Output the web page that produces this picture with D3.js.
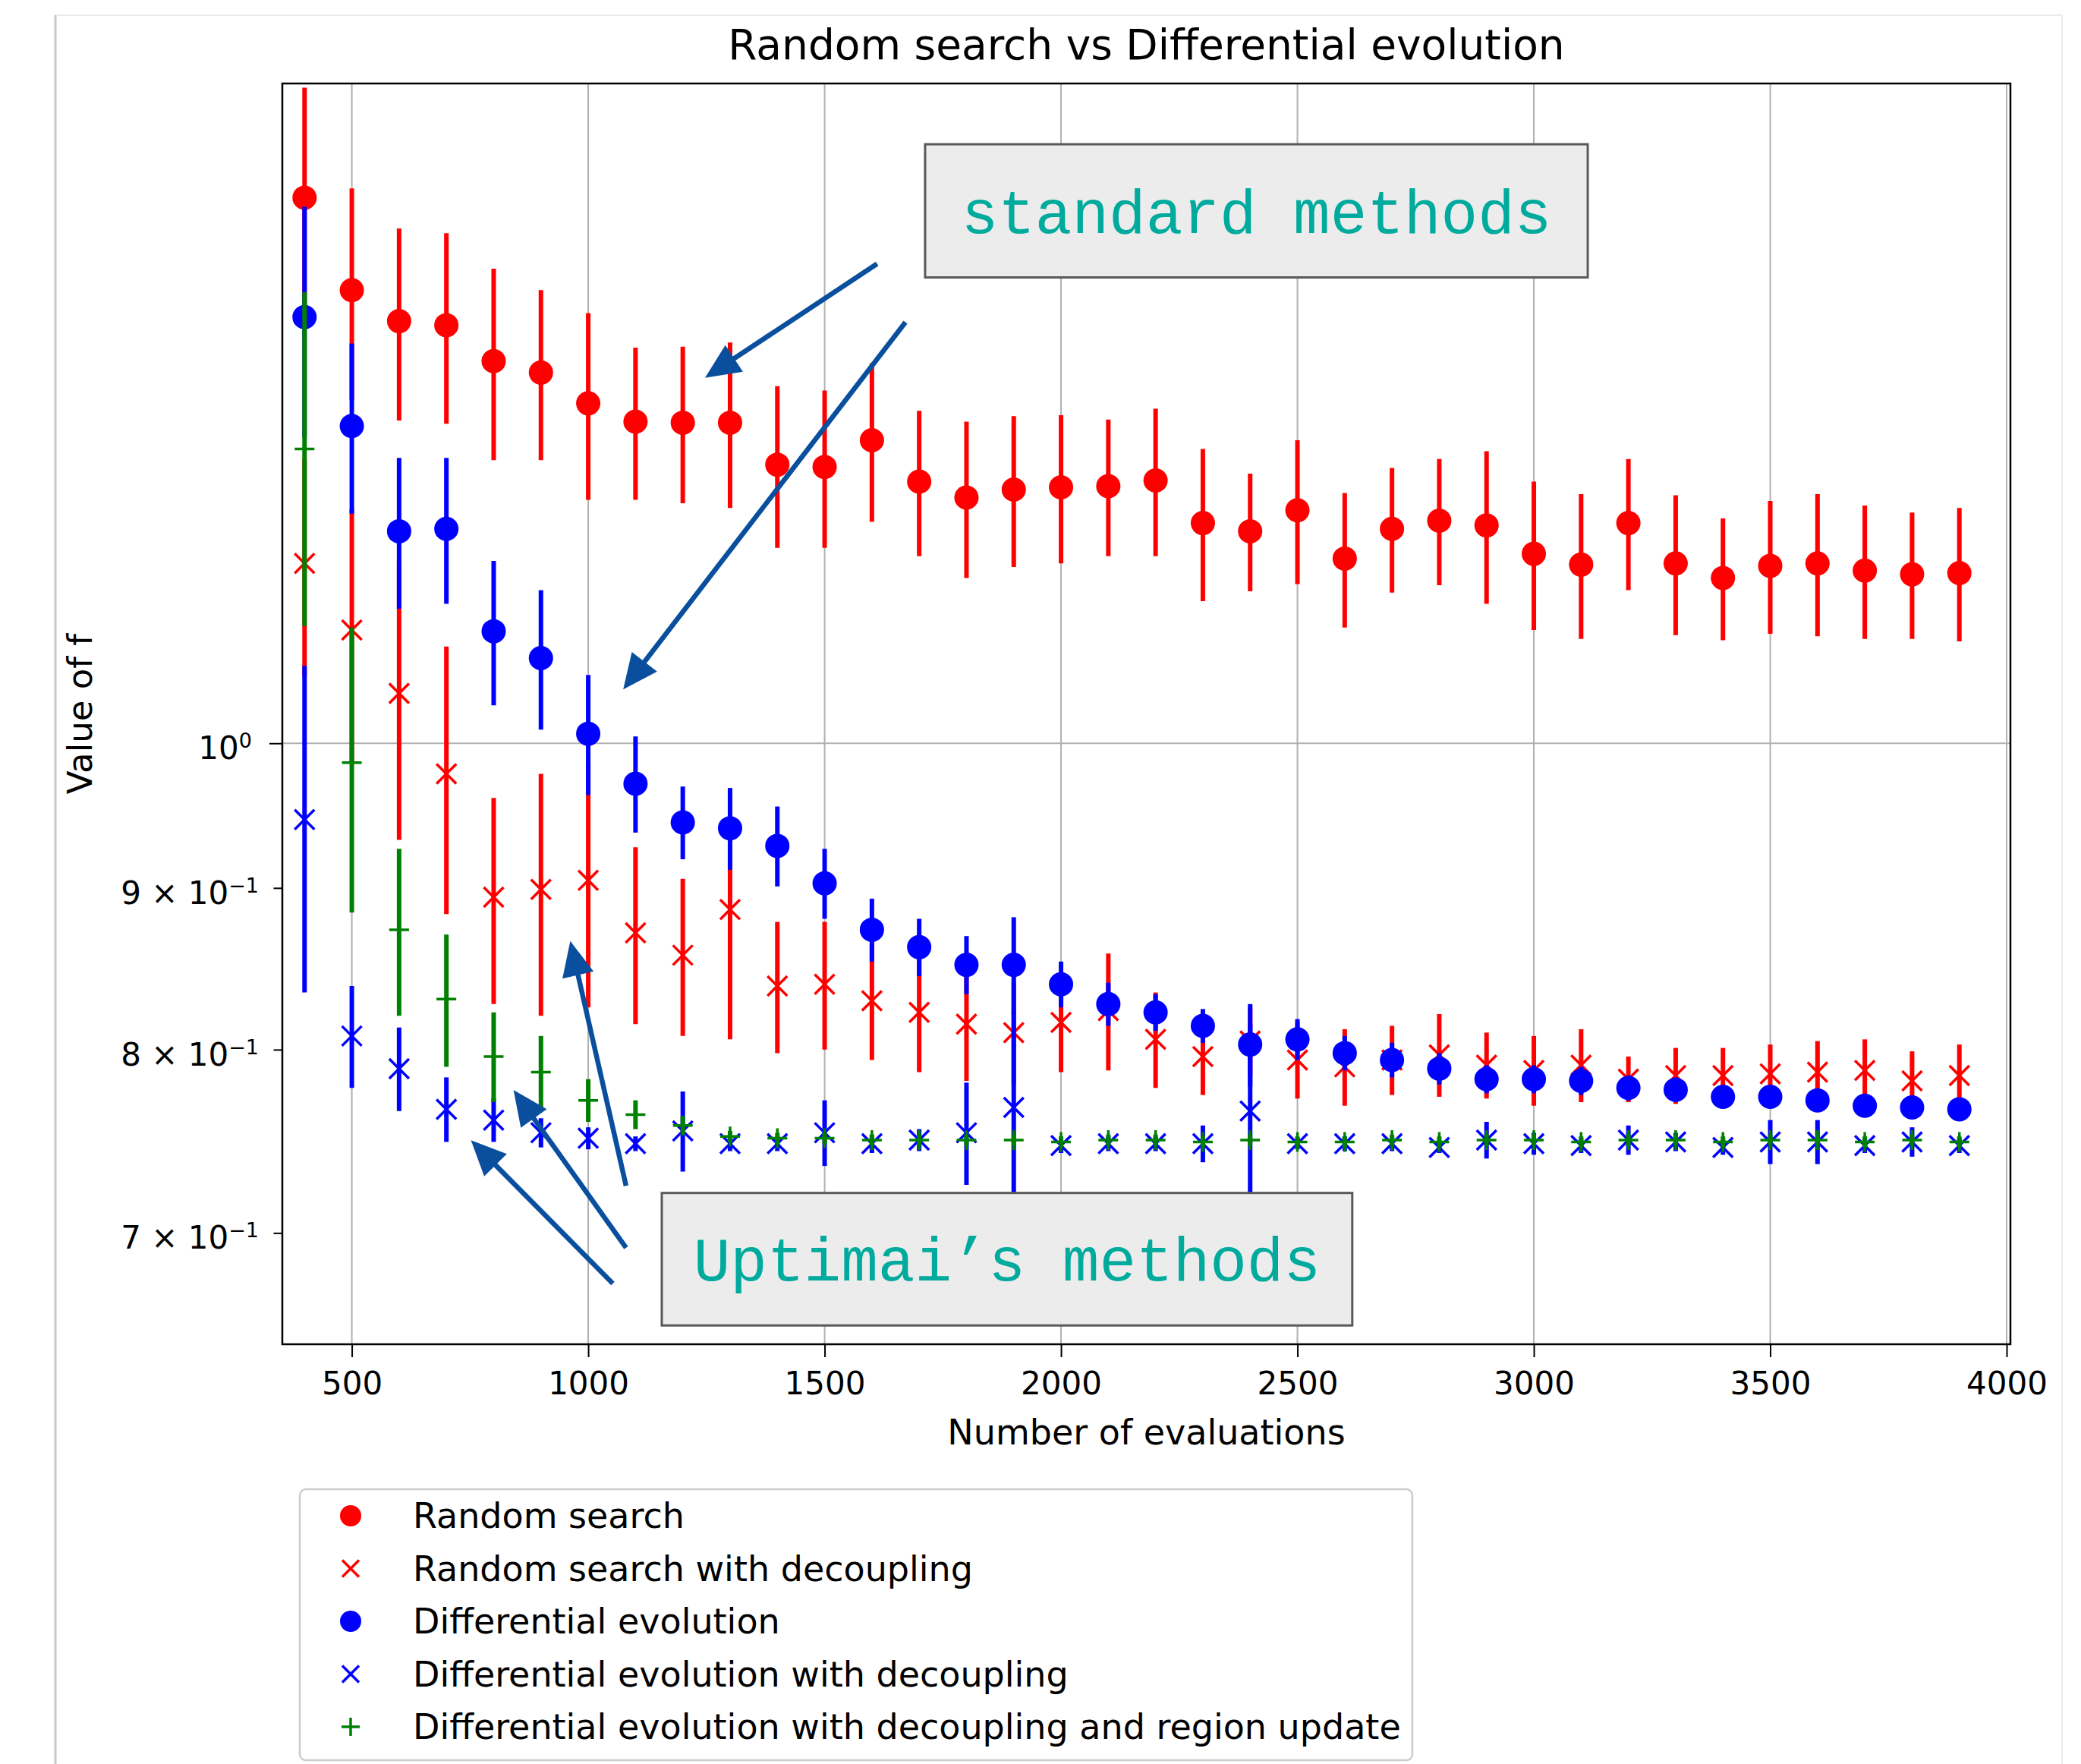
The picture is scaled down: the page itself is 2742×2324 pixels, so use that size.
<!DOCTYPE html>
<meta charset="utf-8">
<script src="https://d3js.org/d3.v7.min.js"></script>
<style>
  body { margin: 0; background: #ffffff; }
  svg text { font-family: "DejaVu Sans", sans-serif; fill: #000; }
</style>
<body>
<svg id="chart" width="2742" height="2324"></svg>
<script>

// x categories (number of evaluations)
var evals = [400, 500, 600, 700, 800, 900, 1000, 1100, 1200, 1300, 1400, 1500,
             1600, 1700, 1800, 1900, 2000, 2100, 2200, 2300, 2400, 2500, 2600, 2700,
             2800, 2900, 3000, 3100, 3200, 3300, 3400, 3500, 3600, 3700, 3800, 3900];

// Random search
var rsMean = [1.488, 1.391, 1.360, 1.356, 1.321, 1.310, 1.281, 1.264, 1.263, 1.263, 1.225, 1.223,
              1.247, 1.210, 1.196, 1.203, 1.205, 1.206, 1.211, 1.174, 1.167, 1.185, 1.144, 1.169,
              1.176, 1.172, 1.148, 1.139, 1.174, 1.140, 1.128, 1.138, 1.140, 1.134, 1.131, 1.132];
var rsErr  = [0.124, 0.107, 0.095, 0.094, 0.092, 0.081, 0.087, 0.070, 0.072, 0.076, 0.072, 0.070,
              0.072, 0.064, 0.068, 0.066, 0.065, 0.060, 0.065, 0.065, 0.050, 0.062, 0.056, 0.053,
              0.054, 0.065, 0.062, 0.060, 0.056, 0.058, 0.050, 0.055, 0.059, 0.055, 0.052, 0.055];

// Random search with decoupling
var rsdMean = [1.140, 1.086, 1.037, 0.978, 0.894, 0.899, 0.905, 0.871, 0.857, 0.886, 0.838, 0.839,
               0.829, 0.822, 0.815, 0.810, 0.816, 0.823, 0.806, 0.796, 0.805, 0.794, 0.790, 0.794,
               0.797, 0.791, 0.788, 0.791, 0.783, 0.785, 0.785, 0.786, 0.787, 0.788, 0.782, 0.785];
var rsdErr  = [0.090, 0.100, 0.105, 0.095, 0.067, 0.079, 0.080, 0.056, 0.049, 0.080, 0.040, 0.039,
               0.035, 0.035, 0.033, 0.030, 0.029, 0.035, 0.028, 0.022, 0.020, 0.022, 0.022, 0.020,
               0.024, 0.019, 0.020, 0.021, 0.013, 0.016, 0.016, 0.017, 0.018, 0.018, 0.017, 0.018];

// Differential evolution
var deMean = [1.364, 1.260, 1.167, 1.169, 1.085, 1.064, 1.007, 0.971, 0.944, 0.940, 0.928, 0.903,
              0.873, 0.862, 0.851, 0.851, 0.839, 0.827, 0.822, 0.814, 0.803, 0.806, 0.798, 0.794,
              0.789, 0.783, 0.783, 0.782, 0.778, 0.777, 0.773, 0.773, 0.771, 0.768, 0.767, 0.766];
var deErr  = [0.114, 0.078, 0.064, 0.062, 0.057, 0.054, 0.044, 0.034, 0.025, 0.028, 0.027, 0.023,
              0.020, 0.018, 0.018, 0.030, 0.014, 0.013, 0.011, 0.010, 0.024, 0.012, 0.010, 0.010,
              0.009, 0.008, 0.008, 0.008, 0.007, 0.007, 0.006, 0.006, 0.006, 0.006, 0.006, 0.006];

// Differential evolution with decoupling
var dedMean = [0.946, 0.808, 0.789, 0.766, 0.760, 0.753, 0.750, 0.747, 0.754, 0.747, 0.747, 0.753,
               0.747, 0.749, 0.753, 0.767, 0.746, 0.747, 0.747, 0.747, 0.765, 0.747, 0.747, 0.747,
               0.745, 0.749, 0.747, 0.746, 0.749, 0.748, 0.745, 0.748, 0.748, 0.746, 0.748, 0.746];
var dedErr  = [0.112, 0.030, 0.024, 0.018, 0.012, 0.008, 0.006, 0.004, 0.022, 0.004, 0.004, 0.018,
               0.005, 0.006, 0.028, 0.055, 0.004, 0.004, 0.004, 0.010, 0.050, 0.003, 0.004, 0.004,
               0.003, 0.010, 0.006, 0.004, 0.008, 0.005, 0.004, 0.012, 0.012, 0.004, 0.008, 0.004];

// Differential evolution with decoupling and region update
var derMean = [1.239, 0.986, 0.873, 0.830, 0.796, 0.787, 0.771, 0.763, 0.757, 0.751, 0.750, 0.750,
               0.749, 0.749, 0.749, 0.749, 0.748, 0.749, 0.749, 0.748, 0.749, 0.748, 0.748, 0.749,
               0.748, 0.749, 0.749, 0.748, 0.749, 0.749, 0.748, 0.749, 0.749, 0.748, 0.749, 0.748];
var derErr  = [0.150, 0.102, 0.053, 0.040, 0.026, 0.021, 0.012, 0.008, 0.005, 0.003, 0.003, 0.003,
               0.003, 0.003, 0.003, 0.003, 0.003, 0.003, 0.003, 0.003, 0.003, 0.003, 0.003, 0.003,
               0.003, 0.003, 0.003, 0.003, 0.003, 0.003, 0.003, 0.003, 0.003, 0.003, 0.003, 0.003];

var seriesNames = ["Random search", "Random search with decoupling", "Differential evolution",
                   "Differential evolution with decoupling",
                   "Differential evolution with decoupling and region update"];
var seriesColors = ["#ff0000", "#ff0000", "#0000ff", "#0000ff", "#008000"];
var seriesMarkers = ["o", "x", "o", "x", "+"];

// axis ticks
var xTicks = [500, 1000, 1500, 2000, 2500, 3000, 3500, 4000];
var yTickValues = [0.7, 0.8, 0.9, 1.0];
var yTickBase = ["7 \u00d7 10", "8 \u00d7 10", "9 \u00d7 10", "10"];
var yTickExp = ["\u22121", "\u22121", "\u22121", "0"];

// annotations: [tail evals, tail f, tip evals, tip f]
var stdArrows = [[1611, 1.418, 1247, 1.305], [1671, 1.359, 1074, 1.040]];
var uptArrows = [[1080, 0.7245, 962, 0.8659], [1080, 0.6925, 842, 0.7768], [1052, 0.6747, 752, 0.7489]];

var series = seriesNames.map(function(n, i) {
  return {name: n, color: seriesColors[i], marker: seriesMarkers[i],
          mean: [rsMean, rsdMean, deMean, dedMean, derMean][i],
          err: [rsErr, rsdErr, deErr, dedErr, derErr][i]};
});

var plotL = 372, plotR = 2649, plotT = 110, plotB = 1771;

var svg = d3.select("#chart");

// card outline round the figure
svg.append("rect")
  .attr("x", 73).attr("y", 20).attr("width", 2644).attr("height", 2340)
  .attr("fill", "#ffffff").attr("stroke", "#ececec").attr("stroke-width", 2);
svg.append("line")
  .attr("x1", 73).attr("x2", 73).attr("y1", 20).attr("y2", 2324)
  .attr("stroke", "#c9c9c9").attr("stroke-width", 3);

var x = d3.scaleLinear().domain([353, 4008]).range([plotL, plotR]);
var y = d3.scaleLog().domain([0.6455, 1.617]).range([plotB, plotT]);

svg.append("defs").append("clipPath").attr("id", "clip")
  .append("rect").attr("x", plotL).attr("y", plotT)
  .attr("width", plotR - plotL).attr("height", plotB - plotT);

// grid
var grid = svg.append("g").attr("stroke", "#b0b0b0").attr("stroke-width", 2);
grid.selectAll("line.gx").data(xTicks).join("line")
  .attr("x1", d => x(d)).attr("x2", d => x(d))
  .attr("y1", plotT).attr("y2", plotB);
grid.append("line")
  .attr("x1", plotL).attr("x2", plotR)
  .attr("y1", y(1)).attr("y2", y(1));

// markers
function markerPath(type, cx, cy, r) {
  if (type == "x")
    return "M" + (cx - r) + "," + (cy - r) + "L" + (cx + r) + "," + (cy + r) +
           "M" + (cx - r) + "," + (cy + r) + "L" + (cx + r) + "," + (cy - r);
  return "M" + (cx - r) + "," + cy + "L" + (cx + r) + "," + cy +
         "M" + cx + "," + (cy - r) + "L" + cx + "," + (cy + r);
}

function drawMarker(g, type, color, cx, cy, big) {
  if (type == "o") {
    g.append("circle").attr("cx", cx).attr("cy", cy).attr("r", big ? 16 : 14).attr("fill", color);
  } else {
    g.append("path").attr("d", markerPath(type, cx, cy, type == "x" ? (big ? 13 : 11) : (big ? 13 : 12)))
      .attr("stroke", color).attr("stroke-width", 3.5).attr("fill", "none");
  }
}

var plot = svg.append("g").attr("clip-path", "url(#clip)");

series.forEach(function(s) {
  var g = plot.append("g");
  g.selectAll("line").data(evals).join("line")
    .attr("x1", d => x(d)).attr("x2", d => x(d))
    .attr("y1", (d, i) => y(s.mean[i] - s.err[i]))
    .attr("y2", (d, i) => y(s.mean[i] + s.err[i]))
    .attr("stroke", s.color).attr("stroke-width", 6);
  evals.forEach(function(d, i) {
    drawMarker(g, s.marker, s.color, x(d), y(s.mean[i]), true);
  });
});

// axes
var xAxis = svg.append("g")
  .attr("transform", "translate(0," + plotB + ")")
  .call(d3.axisBottom(x).tickValues(xTicks).tickSize(17).tickPadding(19).tickFormat(d3.format("d")));
xAxis.select(".domain").remove();
xAxis.selectAll("line").attr("stroke", "#000").attr("stroke-width", 2);
xAxis.selectAll("text").attr("font-size", 42).attr("font-family", "DejaVu Sans");

var yAxis = svg.append("g")
  .attr("transform", "translate(" + plotL + ",0)")
  .call(d3.axisLeft(y).tickValues(yTickValues).tickSize(12).tickFormat(""));
yAxis.select(".domain").remove();
yAxis.selectAll("line").attr("stroke", "#000").attr("stroke-width", 2)
  .attr("x2", d => d == 1 ? -17 : -11.5);

var yLabels = svg.append("g").attr("font-size", 42);
yTickValues.forEach(function(v, i) {
  var t = yLabels.append("text")
    .attr("x", v == 1 ? 332 : 341)
    .attr("y", y(v) + 21)
    .attr("text-anchor", "end");
  t.append("tspan").text(yTickBase[i]);
  t.append("tspan").attr("font-size", 27).attr("dy", -15).text(yTickExp[i]);
});

// frame
svg.append("rect")
  .attr("x", plotL).attr("y", plotT)
  .attr("width", plotR - plotL).attr("height", plotB - plotT)
  .attr("fill", "none").attr("stroke", "#000").attr("stroke-width", 2.5);

// titles
svg.append("text").attr("x", (plotL + plotR) / 2).attr("y", 78)
  .attr("text-anchor", "middle").attr("font-size", 55)
  .text("Random search vs Differential evolution");
svg.append("text").attr("x", (plotL + plotR) / 2).attr("y", 1903)
  .attr("text-anchor", "middle").attr("font-size", 46)
  .text("Number of evaluations");
svg.append("text")
  .attr("transform", "translate(121," + (plotT + plotB) / 2 + ") rotate(-90)")
  .attr("text-anchor", "middle").attr("font-size", 45)
  .text("Value of f");

// annotation boxes
function noteBox(x0, x1, f0, f1, label, baseOff) {
  var bx0 = x(x0), bx1 = x(x1), by0 = y(f1), by1 = y(f0);
  svg.append("rect")
    .attr("x", bx0).attr("y", by0).attr("width", bx1 - bx0).attr("height", by1 - by0)
    .attr("fill", "#ececec").attr("stroke", "#595959").attr("stroke-width", 3);
  svg.append("text")
    .attr("x", (bx0 + bx1) / 2).attr("y", (by0 + by1) / 2 + baseOff)
    .attr("text-anchor", "middle")
    .style("font-family", "'Liberation Mono', 'DejaVu Sans Mono', monospace")
    .style("fill", "#00aa9d")
    .attr("font-size", 81)
    .text(label);
}

function arrow(a) {
  var x1 = x(a[0]), y1 = y(a[1]), x2 = x(a[2]), y2 = y(a[3]);
  var dx = x2 - x1, dy = y2 - y1, len = Math.sqrt(dx * dx + dy * dy);
  var ux = dx / len, uy = dy / len;
  var hl = 46, hw = 21;
  var bx = x2 - ux * hl, by = y2 - uy * hl;
  svg.append("line")
    .attr("x1", x1).attr("y1", y1).attr("x2", bx + ux * 4).attr("y2", by + uy * 4)
    .attr("stroke", "#0a4f9e").attr("stroke-width", 6.5);
  svg.append("path")
    .attr("d", "M" + x2 + "," + y2 +
               "L" + (bx - uy * hw) + "," + (by + ux * hw) +
               "L" + (bx + uy * hw) + "," + (by - ux * hw) + "Z")
    .attr("fill", "#0a4f9e");
}

noteBox(1712.5, 3114, 1.404, 1.547, "standard methods", 29);
noteBox(1155.6, 2616, 0.6544, 0.7207, "Uptimai\u2019s methods", 28);
stdArrows.forEach(arrow);
uptArrows.forEach(arrow);

// legend
var leg = svg.append("g");
leg.append("rect")
  .attr("x", 395).attr("y", 1962).attr("width", 1466).attr("height", 357)
  .attr("rx", 8).attr("fill", "#ffffff").attr("stroke", "#cccccc").attr("stroke-width", 2.5);
series.forEach(function(s, i) {
  var cy = 1997 + i * 69.5;
  drawMarker(leg, s.marker, s.color, 462, cy, false);
  leg.append("text").attr("x", 544).attr("y", cy + 16)
    .attr("font-size", 46).text(s.name);
});

</script>
</body>
